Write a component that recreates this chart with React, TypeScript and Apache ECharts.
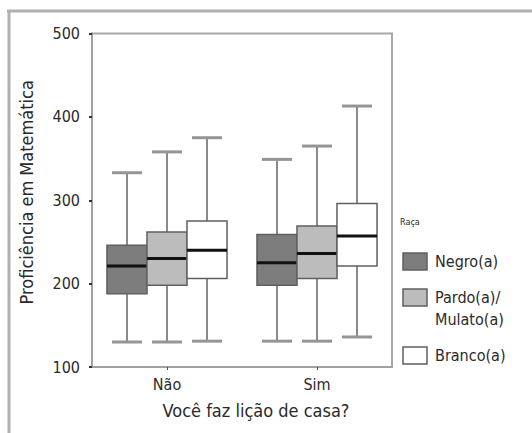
import React, { useEffect, useRef } from "react";
import * as echarts from "echarts";

// Data (min, Q1, median, Q3, max) per category
const categories = ["Não", "Sim"];
const raceNames = ["Negro(a)", "Pardo(a)/\nMulato(a)", "Branco(a)"];
const negro = [
  [130, 188, 221, 246, 333],
  [131, 198, 225, 259, 349],
];
const pardo = [
  [130, 198, 230, 262, 358],
  [131, 206, 236, 269, 365],
];
const branco = [
  [131, 206, 240, 275, 375],
  [136, 221, 257, 296, 413],
];
const yTicks = [100, 200, 300, 400, 500];

const FONT = "'Liberation Sans Narrow', 'DejaVu Sans Condensed', 'Liberation Sans', sans-serif";
const raceColors = ["#7d7d7d", "#bcbcbc", "#ffffff"];
const TEXT = "#2a2a2a";

export default function App() {
  const ref = useRef<HTMLDivElement>(null);
  useEffect(() => {
    if (!ref.current) return;
    const chart = echarts.init(ref.current, undefined, { renderer: "svg" });
    const races = [negro, pardo, branco];

    const makeSeries = (idx: number) => ({
      type: "custom",
      name: raceNames[idx],
      xAxisIndex: 0,
      yAxisIndex: 0,
      data: races[idx].map((d, c) => [c, ...d]),
      renderItem: (params: any, api: any) => {
        const c = api.value(0);
        const band = api.size([1, 0])[0];
        const w = band * 0.267;
        const capW = band * 0.2;
        const cx = api.coord([c, yTicks[0]])[0] + (idx - 1) * band * 0.2667;
        const y = (v: number) => api.coord([c, v])[1];
        const mn = y(api.value(1));
        const q1 = y(api.value(2));
        const md = y(api.value(3));
        const q3 = y(api.value(4));
        const mx = y(api.value(5));
        const whisk = { stroke: "#8a8a8a", lineWidth: 2 };
        const cap = { stroke: "#959595", lineWidth: 3 };
        return {
          type: "group",
          children: [
            { type: "line", shape: { x1: cx, y1: mx, x2: cx, y2: q3 }, style: whisk },
            { type: "line", shape: { x1: cx, y1: q1, x2: cx, y2: mn }, style: whisk },
            { type: "line", shape: { x1: cx - capW / 2, y1: mx, x2: cx + capW / 2, y2: mx }, style: cap },
            { type: "line", shape: { x1: cx - capW / 2, y1: mn, x2: cx + capW / 2, y2: mn }, style: cap },
            {
              type: "rect",
              shape: { x: cx - w / 2, y: q3, width: w, height: q1 - q3 },
              style: { fill: raceColors[idx], stroke: "#5f5f5f", lineWidth: 1.5 },
            },
            {
              type: "line",
              shape: { x1: cx - w / 2, y1: md, x2: cx + w / 2, y2: md },
              style: { stroke: "#111111", lineWidth: 3 },
            },
          ],
        };
      },
    });

    const legendTop = [253, 289, 347];
    const legendGraphics: any[] = [
      {
        type: "text",
        left: 400,
        top: 217,
        style: { text: "Raça", font: `9px ${FONT}`, fill: TEXT },
      },
    ];
    raceNames.forEach((n, i) => {
      legendGraphics.push({
        type: "rect",
        shape: { x: 403, y: legendTop[i], width: 24, height: 17 },
        style: { fill: raceColors[i], stroke: "#5f5f5f", lineWidth: 1.5 },
      });
      legendGraphics.push({
        type: "text",
        x: 435,
        y: legendTop[i] - 2.5,
        style: {
          text: n,
          font: `16px ${FONT}`,
          fill: TEXT,
          lineHeight: 22,
          verticalAlign: "top",
        },
      });
    });

    chart.setOption({
      animation: false,
      backgroundColor: "#ffffff",
      grid: {
        left: 92,
        top: 33.5,
        width: 300,
        height: 333.5,
        show: true,
        borderColor: "#a8a8a8",
        borderWidth: 2,
        backgroundColor: "transparent",
      },
      xAxis: {
        type: "category",
        data: categories,
        axisLine: { lineStyle: { color: "#a0a0a0", width: 2 } },
        axisTick: { show: true, alignWithLabel: true, length: 3, lineStyle: { color: "#555" } },
        axisLabel: { margin: 9, fontSize: 16, color: TEXT, fontFamily: FONT },
        name: "Você faz lição de casa?",
        nameLocation: "middle",
        nameGap: 34,
        nameTextStyle: { fontSize: 18, color: TEXT, fontFamily: FONT, padding: [0, 0, 0, 28] },
      },
      yAxis: {
        type: "value",
        min: 100,
        max: 500,
        interval: 100,
        splitLine: { show: false },
        axisLine: { show: true, lineStyle: { color: "#a0a0a0", width: 2 } },
        axisTick: { show: true, length: 3, lineStyle: { color: "#333", width: 2 } },
        axisLabel: { margin: 12, fontSize: 16, color: TEXT, fontFamily: FONT },
        name: "Proficiência em Matemática",
        nameLocation: "middle",
        nameGap: 57,
        nameTextStyle: { fontSize: 18, color: TEXT, fontFamily: FONT, padding: [0, 0, 0, 16] },
      },
      series: [makeSeries(0), makeSeries(1), makeSeries(2)],
      graphic: [
        { type: "line", shape: { x1: 7, y1: 11, x2: 532, y2: 11 }, style: { stroke: "#b0b0b0", lineWidth: 3 } },
        { type: "line", shape: { x1: 9, y1: 10, x2: 9, y2: 433 }, style: { stroke: "#b0b0b0", lineWidth: 3 } },
        ...legendGraphics,
      ],
    });
    return () => chart.dispose();
  }, []);
  return (
    <div
      ref={ref}
      style={{ position: "absolute", left: 0, top: 0, width: 532, height: 433 }}
    />
  );
}
